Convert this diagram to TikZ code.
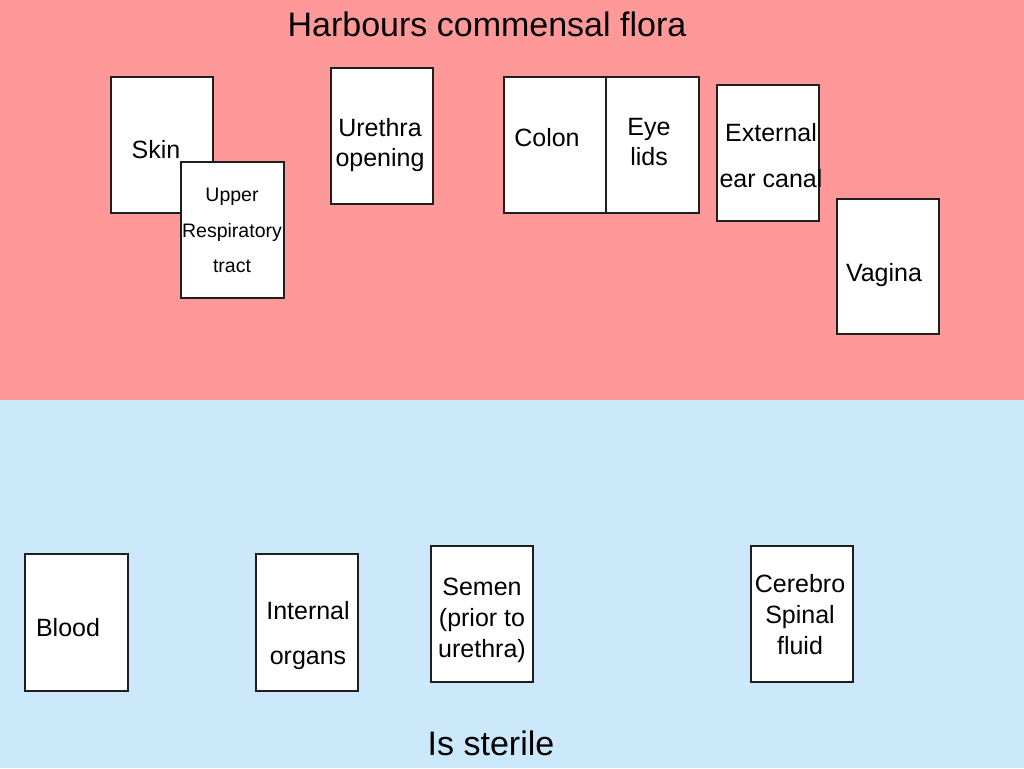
\documentclass[tikz,border=0pt]{standalone}
\usepackage{fontspec}
\setmainfont{Liberation Sans}
\definecolor{topbg}{RGB}{255,153,153}
\definecolor{botbg}{RGB}{204,232,251}
\definecolor{edge}{RGB}{30,30,30}
\tikzset{
  box/.style={draw=edge, line width=1.3pt, fill=white, rectangle, inner sep=0pt},
  lbl/.style={anchor=base, inner sep=0pt, text=black, font=\fontsize{25}{30}\selectfont},
  slbl/.style={anchor=base, inner sep=0pt, text=black, font=\fontsize{19.5}{24}\selectfont},
  ttl/.style={anchor=base, inner sep=0pt, text=black, font=\fontsize{34}{40}\selectfont},
}
\begin{document}
\begin{tikzpicture}[x=1pt,y=-1pt]
\useasboundingbox (0,0) rectangle (1024,768);
\fill[topbg] (0,0) rectangle (1024,400);
\fill[botbg] (0,400) rectangle (1024,768);

\node[ttl] (title) at (487,37) {Harbours commensal flora};
\node[ttl] (sterile) at (491,755) {Is sterile};

% top boxes
\node[box, minimum width=102pt, minimum height=136pt] (skin) at (162,145) {};
\node[lbl] (skinT) at (156,158) {Skin};
\node[box, minimum width=103pt, minimum height=136pt] (resp) at (232.5,230) {};
\node[slbl] (respA) at (232,201) {Upper};
\node[slbl] (respB) at (232,237) {Respiratory};
\node[slbl] (respC) at (232,272) {tract};

\node[box, minimum width=102pt, minimum height=136pt] (ureth) at (382,136) {};
\node[lbl] (urethA) at (380,136) {Urethra};
\node[lbl] (urethB) at (380,166) {opening};

\node[box, minimum width=102pt, minimum height=136pt] (colon) at (555,145) {};
\node[lbl] (colonT) at (547,146) {Colon};
\node[box, minimum width=93pt, minimum height=136pt] (eye) at (652.5,145) {};
\node[lbl] (eyeA) at (649,135) {Eye};
\node[lbl] (eyeB) at (649,165) {lids};

\node[box, minimum width=102pt, minimum height=136pt] (ear) at (768,153) {};
\node[lbl] (earA) at (771,141) {External};
\node[lbl] (earB) at (771,187) {ear canal};

\node[box, minimum width=102pt, minimum height=135pt] (vag) at (888,266.5) {};
\node[lbl] (vagT) at (884,281) {Vagina};

% bottom boxes
\node[box, minimum width=103pt, minimum height=137pt] (blood) at (76.5,622.5) {};
\node[lbl] (bloodT) at (68,636) {Blood};

\node[box, minimum width=102pt, minimum height=137pt] (organs) at (307,622.5) {};
\node[lbl] (organsA) at (308,619) {Internal};
\node[lbl] (organsB) at (308,664) {organs};

\node[box, minimum width=102pt, minimum height=136pt] (semen) at (482,614) {};
\node[lbl] (semenA) at (482,595) {Semen};
\node[lbl] (semenB) at (482,626) {(prior to};
\node[lbl] (semenC) at (482,657) {urethra)};

\node[box, minimum width=102pt, minimum height=136pt] (csf) at (802,614) {};
\node[lbl] (csfA) at (800,592) {Cerebro};
\node[lbl] (csfB) at (800,623) {Spinal};
\node[lbl] (csfC) at (800,654) {fluid};
\end{tikzpicture}
\end{document}
